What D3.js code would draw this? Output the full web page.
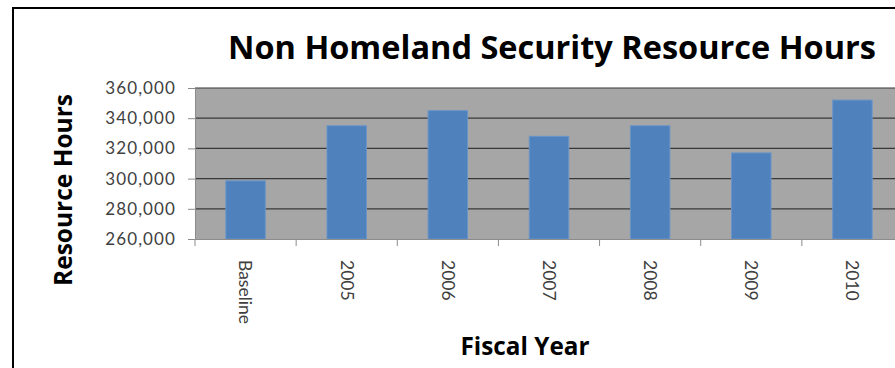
<!DOCTYPE html>
<html>
<head>
<meta charset="utf-8">
<script src="https://cdn.jsdelivr.net/npm/d3@7"></script>
<style>
  html, body { margin: 0; padding: 0; background: #fff; }
  svg { display: block; }
  text { font-family: Lato, "Open Sans", sans-serif; }
  .heading { font-family: "Open Sans", Lato, sans-serif; font-weight: bold; }
</style>
</head>
<body>
<svg id="chart" width="895" height="368"></svg>
<script>
// Non Homeland Security resource hours by fiscal year
const categories = ["Baseline", "2005", "2006", "2007", "2008", "2009", "2010"];
const hours = [298500, 335000, 345000, 328000, 335000, 317000, 352000];
const yTicks = [260000, 280000, 300000, 320000, 340000, 360000];

const svg = d3.select("#chart");
const plot = { left: 195, top: 88, right: 903, bottom: 239 };

// outer chart frame
svg.append("rect")
  .attr("x", 13).attr("y", 8)
  .attr("width", 900).attr("height", 380)
  .attr("fill", "#fff").attr("stroke", "#000").attr("stroke-width", 2);

// bar placement within each category slot
const x = d3.scaleBand()
  .domain(categories)
  .range([plot.left, plot.right])
  .paddingInner(0.6).paddingOuter(0.3);

// full category slots (axis separators and labels)
const xOuter = d3.scaleBand()
  .domain(categories)
  .range([plot.left, plot.right]);

const y = d3.scaleLinear()
  .domain([260000, 360000])
  .range([plot.bottom, plot.top]);

// plot area background
svg.append("rect")
  .attr("x", plot.left).attr("y", plot.top)
  .attr("width", plot.right - plot.left).attr("height", plot.bottom - plot.top)
  .attr("fill", "#a6a6a6");

// horizontal gridlines
svg.append("g")
  .selectAll("line")
  .data(yTicks.filter(t => t > 260000))
  .join("line")
  .attr("x1", plot.left).attr("x2", plot.right)
  .attr("y1", d => y(d)).attr("y2", d => y(d))
  .attr("stroke", "#383838").attr("stroke-width", 1.2);

// bars
svg.append("g")
  .selectAll("rect")
  .data(categories.map((c, i) => ({ c, v: hours[i] })))
  .join("rect")
  .attr("x", d => x(d.c) + 0.5)
  .attr("y", d => y(d.v))
  .attr("width", x.bandwidth() - 1)
  .attr("height", d => y(260000) - y(d.v))
  .attr("fill", "#4f81bd")
  .attr("stroke", "#6a95c8").attr("stroke-width", 1);

// y axis
const yAxis = d3.axisLeft(y)
  .tickValues(yTicks)
  .tickSize(7)
  .tickPadding(12)
  .tickFormat(d3.format(","));
const gy = svg.append("g")
  .attr("transform", `translate(${plot.left},0)`)
  .call(yAxis);
gy.select(".domain").attr("stroke", "#8c8c8c");
gy.selectAll(".tick line").attr("stroke", "#8c8c8c");
gy.selectAll(".tick text")
  .attr("fill", "#404040")
  .style("font-size", "17px")
  .style("letter-spacing", "1.1px");

// x axis
const xAxis = d3.axisBottom(xOuter).tickSize(0).tickFormat("");
const gx = svg.append("g")
  .attr("transform", `translate(0,${plot.bottom})`)
  .call(xAxis);
gx.select(".domain").attr("stroke", "#8c8c8c");
gx.selectAll(".tick").remove();
gx.selectAll(".sep")
  .data(categories)
  .join("line")
  .attr("class", "sep")
  .attr("x1", d => xOuter(d)).attr("x2", d => xOuter(d))
  .attr("y1", 0).attr("y2", 7)
  .attr("stroke", "#8c8c8c");
gx.selectAll(".cat")
  .data(categories)
  .join("text")
  .attr("class", "cat")
  .attr("transform", d => `translate(${xOuter(d) + xOuter.bandwidth() / 2},21) rotate(90)`)
  .attr("dy", "0.35em")
  .attr("text-anchor", "start")
  .attr("fill", "#404040")
  .style("font-size", "17.5px")
  .text(d => d);

// titles
svg.append("text")
  .attr("class", "heading")
  .attr("x", 552).attr("y", 59)
  .attr("text-anchor", "middle")
  .style("font-size", "32.5px")
  .attr("fill", "#000")
  .text("Non Homeland Security Resource Hours");

svg.append("text")
  .attr("class", "heading")
  .attr("transform", "translate(72,190) rotate(-90)")
  .attr("text-anchor", "middle")
  .style("font-size", "24.5px")
  .attr("fill", "#000")
  .text("Resource Hours");

svg.append("text")
  .attr("class", "heading")
  .attr("x", 525).attr("y", 355)
  .attr("text-anchor", "middle")
  .style("font-size", "24.3px")
  .attr("fill", "#000")
  .text("Fiscal Year");
</script>
</body>
</html>
